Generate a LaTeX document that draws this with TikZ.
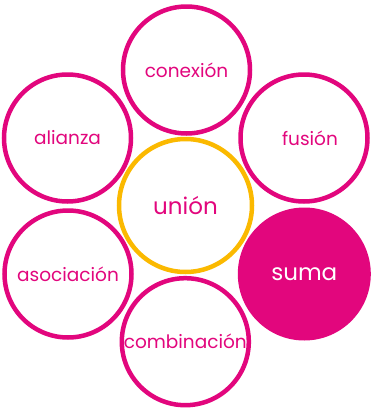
\documentclass[tikz,border=0pt]{standalone}
\usepackage{fontspec}
\setmainfont{Poppins}
\usetikzlibrary{positioning}
\definecolor{mag}{HTML}{E2067D}
\definecolor{gold}{HTML}{FBB900}

\begin{document}
\begin{tikzpicture}[
  x=1pt, y=-1pt,
  bubble/.style={circle, draw=mag, line width=4.5pt, fill=white, text=mag, minimum size=127pt, inner sep=0pt, font=\fontsize{18.5}{20}\selectfont},
  core/.style={circle, draw=gold, line width=4.5pt, fill=white, text=mag, minimum size=133pt, inner sep=0pt, font=\fontsize{23}{26}\selectfont},
  solid bubble/.style={circle, fill=mag, text=white, minimum size=133pt, inner sep=0pt, font=\fontsize{23}{26}\selectfont},
]
\useasboundingbox (0,0) rectangle (384,413);
% centre word
\node[core] (union) at (185.5,205.5) {unión};
% ring of synonyms
\node[bubble] (conexion) at (186.5,70) {conexión};
\node[bubble] (alianza) at (67.5,138) {alianza};
\node[bubble] (fusion) at (304,138) {};
\node[text=mag, font=\fontsize{18.5}{20}\selectfont, xshift=6pt] (fusiontxt) at (fusion) {fusión};
\node[bubble] (asociacion) at (68,274) {asociación};
\node[solid bubble] (suma) at (304.3,274) {suma};
\node[bubble] (combinacion) at (185.3,341.7) {combinación};
\end{tikzpicture}
\end{document}
